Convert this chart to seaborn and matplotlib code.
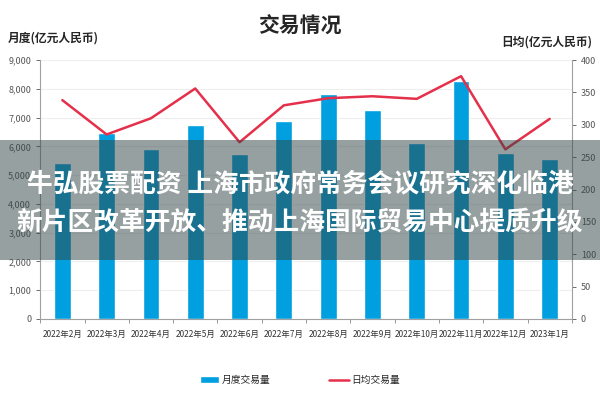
import numpy as np
import pandas as pd
import matplotlib
matplotlib.use("Agg")
import matplotlib.pyplot as plt
import seaborn as sns
from matplotlib.patches import Rectangle
from matplotlib.ticker import FuncFormatter

# datos
meses = ["2022年2月", "2022年3月", "2022年4月", "2022年5月", "2022年6月", "2022年7月",
         "2022年8月", "2022年9月", "2022年10月", "2022年11月", "2022年12月", "2023年1月"]
mensual = [5420, 6450, 5900, 6740, 5730, 6880, 7810, 7260, 6100, 8260, 5760, 5560]
diario = [338, 285, 310, 356, 273, 330, 341, 344, 340, 375, 262, 309]

titulo = "交易情况"
eje_izq = "月度(亿元人民币)"
eje_der = "日均(亿元人民币)"
serie_barras = "月度交易量"
serie_linea = "日均交易量"
texto_linea1 = "牛弘股票配资 上海市政府常务会议研究深化临港"
texto_linea2 = "新片区改革开放、推动上海国际贸易中心提质升级"

sns.set_theme(style="white")
plt.rcParams["font.family"] = ["Noto Sans CJK SC", "DejaVu Sans"]

df = pd.DataFrame({"mes": meses, "mensual": mensual, "diario": diario})
df["pos"] = np.arange(len(df))

fig = plt.figure(figsize=(6, 4), dpi=100)
ax = fig.add_axes([0.067, 0.2025, 0.886, 0.6475])

sns.barplot(data=df, x="mes", y="mensual", color="#009fdf", saturation=1,
            width=0.38, ax=ax, label=serie_barras)
ax.set_ylim(0, 9000)
ax.set_yticks(range(0, 9001, 1000))
ax.yaxis.set_major_formatter(FuncFormatter(lambda v, p: f"{int(v):,}"))
ax.grid(axis="y", color="#eeeeee", linewidth=0.8)
ax.set_axisbelow(True)
ax.set_xlabel("")
ax.set_ylabel("")
ax.set_xlim(-0.5, len(meses) - 0.5)
ax.tick_params(axis="x", labelsize=6, colors="#333333", length=0, pad=8)
ax.tick_params(axis="y", labelsize=6.5, colors="#555555", left=True, length=3, width=0.6)
ax.set_xticks(np.arange(-0.5, len(meses), 1), minor=True)
ax.tick_params(axis="x", which="minor", bottom=True, length=3, width=0.6, color="#888888")
for s in ["top", "right"]:
    ax.spines[s].set_visible(False)
for s in ["left", "bottom"]:
    ax.spines[s].set_color("#a0a0a0")
    ax.spines[s].set_linewidth(0.8)

ax2 = ax.twinx()
sns.lineplot(data=df, x="pos", y="diario", color="#e5304b", linewidth=1.8,
             sort=False, ax=ax2, label=serie_linea)
ax2.set_ylim(0, 400)
ax2.set_yticks(range(0, 401, 50))
ax2.set_ylabel("")
ax2.set_xlabel("")
ax2.tick_params(axis="y", labelsize=6.5, colors="#555555", right=True, length=3, width=0.6)
for s in ["top", "left", "bottom"]:
    ax2.spines[s].set_visible(False)
ax2.spines["right"].set_color("#a0a0a0")
ax2.spines["right"].set_linewidth(0.8)

# leyenda (antes de quitar las de los ejes)
h1, l1 = ax.get_legend_handles_labels()
h2, l2 = ax2.get_legend_handles_labels()
if ax.get_legend() is not None:
    ax.get_legend().remove()
if ax2.get_legend() is not None:
    ax2.get_legend().remove()
fig.legend(h1 + h2, l1 + l2, loc="center", bbox_to_anchor=(0.5, 0.05), ncol=2,
           frameon=False, fontsize=7, columnspacing=6, handlelength=2.0,
           handleheight=0.6, handletextpad=0.3)

# titulos
fig.text(0.5, 0.935, titulo, ha="center", va="center", fontsize=15, fontweight="bold")
fig.text(0.013, 0.905, eje_izq, ha="left", va="center", fontsize=8.5, fontweight="bold")
fig.text(0.987, 0.895, eje_der, ha="right", va="center", fontsize=8.5, fontweight="bold")

# banda superpuesta
fig.patches.append(Rectangle((0, 0.35), 1, 0.30, transform=fig.transFigure,
                             facecolor="#334545", alpha=0.51, edgecolor="none",
                             zorder=10))
fig.text(0.5, 0.54, texto_linea1, ha="center", va="center", fontsize=18.5,
         fontweight="bold", color="white", zorder=11)
fig.text(0.5, 0.445, texto_linea2, ha="center", va="center", fontsize=18.5,
         fontweight="bold", color="white", zorder=11)

fig.savefig("out.png", dpi=100)
